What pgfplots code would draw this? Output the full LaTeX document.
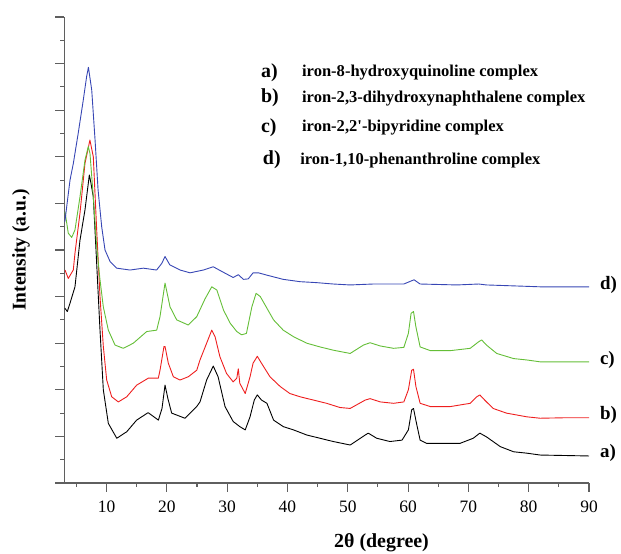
\documentclass[border=0pt]{standalone}
\usepackage{pgfplots}
\pgfplotsset{compat=1.18}
\usepackage{fontspec}
\setmainfont{Liberation Serif}
\definecolor{cblue}{RGB}{55,70,180}
\definecolor{cgreen}{RGB}{100,190,55}
\definecolor{cred}{RGB}{238,30,30}
\definecolor{axgray}{RGB}{95,95,95}
\begin{document}
\begin{tikzpicture}
\path[use as bounding box] (0,0) rectangle (621bp,554bp);
\begin{axis}[
  at={(64.3bp,71bp)}, anchor=south west,
  scale only axis, width=524.7bp, height=466bp,
  xmin=3, xmax=90, ymin=0, ymax=10,
  axis lines=left, axis line style={-, axgray, line width=1.1bp},
  tick style={axgray, line width=1.1bp},
  tick align=outside,
  major tick length=9bp, minor tick length=4bp,
  xtick={10,20,...,90}, minor xtick={5,15,...,85},
  ytick={0,1,...,10}, minor ytick={0.5,1.5,...,9.5},
  yticklabels={},
  xticklabel style={font=\fontsize{17.5}{18}\selectfont, yshift=-5bp},
  /pgf/number format/assume math mode=true,
  clip=false,
  every axis plot/.append style={line width=0.9bp, line join=round},
]
% a) black
\addplot[black] coordinates {
(3.1,3.75)(3.5,3.68)(3.95,3.86)(4.77,4.21)(5.6,5.21)(6.43,5.86)(7.15,6.61)(7.4,6.45)
(7.81,6.14)(8.37,4.71)(8.92,3.28)(9.47,2.0)(10.3,1.28)(11.7,0.96)(13.35,1.10)(15.0,1.35)
(16.9,1.51)(18.6,1.35)(19.2,1.6)(19.7,2.10)(20.2,1.8)(20.8,1.50)(23.0,1.39)(24.95,1.64)
(25.5,1.74)(26.6,2.21)(27.7,2.51)(28.5,2.28)(29.65,1.64)(31.0,1.32)(32.1,1.21)(33.0,1.14)
(33.8,1.42)(34.5,1.78)(35.0,1.89)(35.7,1.78)(36.6,1.71)(37.7,1.35)(39.3,1.21)(41.0,1.14)
(43.2,1.03)(45.4,0.96)(47.6,0.89)(50.4,0.815)(52.9,1.03)(53.4,1.07)(54.8,0.96)(57.0,0.89)
(59.0,0.92)(60.05,1.14)(60.6,1.57)(60.9,1.60)(61.4,1.28)(62.0,0.92)(63.1,0.85)(65.3,0.85)
(68.6,0.85)(70.8,0.96)(71.9,1.07)(73.0,0.99)(75.3,0.78)(77.5,0.67)(79.7,0.64)(81.9,0.60)
(86,0.59)(90,0.58)};
% b) red
\addplot[cred] coordinates {
(3.12,4.57)(3.66,4.39)(4.49,4.57)(4.77,4.93)(5.6,5.79)(6.43,6.86)(7.25,7.36)(7.81,7.0)
(8.37,5.43)(8.92,4.0)(9.47,2.93)(10.03,2.21)(10.86,1.85)(11.96,1.74)(13.35,1.85)(15.0,2.10)
(16.93,2.25)(18.59,2.25)(18.87,2.42)(19.53,2.93)(19.7,2.93)(20.25,2.57)(21.08,2.28)(22.19,2.21)
(23.56,2.28)(24.96,2.42)(25.5,2.64)(26.6,3.0)(27.45,3.28)(28.0,3.14)(28.8,2.71)(29.9,2.35)
(31.0,2.17)(31.6,2.25)(31.85,2.45)(32.1,2.14)(33.0,1.92)(33.8,2.28)(34.3,2.57)(35.0,2.72)
(35.7,2.57)(37.1,2.28)(38.8,2.07)(40.4,1.92)(42.1,1.85)(44.3,1.78)(46.5,1.71)(48.7,1.62)
(50.4,1.60)(52.9,1.78)(53.7,1.81)(55.4,1.74)(57.6,1.71)(59.3,1.74)(60.05,2.0)(60.6,2.42)
(60.9,2.44)(61.3,2.07)(62.0,1.71)(63.7,1.64)(67.0,1.64)(70.3,1.71)(71.4,1.85)(71.9,1.89)
(72.7,1.78)(74.1,1.60)(76.3,1.50)(79.7,1.42)(81.9,1.39)(86,1.40)(90,1.40)};
% c) green
\addplot[cgreen] coordinates {
(3.12,5.82)(3.66,5.36)(4.23,5.27)(4.77,5.43)(5.6,6.14)(6.43,6.93)(6.98,7.22)(7.26,7.07)
(7.81,6.14)(8.37,5.07)(8.92,4.36)(9.47,3.78)(10.3,3.28)(11.41,2.96)(12.78,2.89)(14.44,3.0)
(16.66,3.25)(18.32,3.28)(18.87,3.57)(19.7,4.29)(20.53,3.78)(21.64,3.50)(23.56,3.39)(24.96,3.57)
(26.33,3.95)(27.45,4.21)(28.3,4.14)(29.4,3.71)(30.5,3.43)(31.6,3.25)(32.4,3.18)(33.2,3.21)
(34.1,3.78)(34.8,4.07)(35.5,4.0)(36.6,3.75)(37.7,3.50)(39.3,3.28)(41.0,3.14)(43.2,3.0)
(45.4,2.92)(47.6,2.85)(50.4,2.78)(52.6,2.96)(53.7,3.01)(55.4,2.94)(57.6,2.89)(59.3,2.91)
(60.05,3.21)(60.5,3.64)(60.9,3.68)(61.3,3.35)(62.0,2.92)(63.7,2.84)(67.0,2.84)(70.3,2.89)
(71.7,3.03)(72.2,3.07)(73.0,2.96)(74.7,2.78)(77.5,2.67)(79.7,2.64)(81.9,2.60)(86,2.60)(90,2.60)};
% d) blue
\addplot[cblue] coordinates {
(3.1,5.61)(3.4,5.93)(3.95,6.50)(4.5,6.86)(5.3,7.50)(6.15,8.22)(6.7,8.72)(7.0,8.92)
(7.55,8.43)(8.1,7.36)(8.6,6.29)(9.2,5.50)(9.75,5.0)(10.6,4.75)(11.7,4.61)(13.9,4.57)
(16.1,4.61)(18.3,4.57)(19.15,4.71)(19.7,4.86)(20.5,4.68)(22.2,4.57)(23.85,4.51)(26.05,4.57)
(27.7,4.64)(29.4,4.52)(31.0,4.41)(31.85,4.47)(32.7,4.37)(33.5,4.38)(34.3,4.51)(35.2,4.51)
(36.6,4.46)(39.3,4.37)(42.1,4.32)(44.8,4.30)(47.6,4.27)(50.4,4.25)(54.2,4.27)(59.3,4.27)
(60.6,4.34)(61.0,4.36)(62.0,4.27)(68.1,4.25)(71.7,4.27)(73.0,4.25)(77.5,4.23)(81.9,4.21)(90,4.21)};
% end labels
\begin{scope}[every node/.style={font=\fontsize{19}{20}\selectfont\bfseries, anchor=west, inner sep=0pt}]
\node at (axis cs:91.8,4.25) {d)};
\node at (axis cs:91.8,2.64) {c)};
\node at (axis cs:91.8,1.46) {b)};
\node at (axis cs:91.8,0.64) {a)};
\end{scope}
% legend block
\begin{scope}[every node/.style={anchor=west, inner sep=0pt}]
\node[font=\fontsize{20}{21}\selectfont\bfseries] at (axis cs:35.6,8.80) {a)};
\node[font=\fontsize{20}{21}\selectfont\bfseries] at (axis cs:35.6,8.26) {b)};
\node[font=\fontsize{20}{21}\selectfont\bfseries] at (axis cs:35.6,7.62) {c)};
\node[font=\fontsize{20}{21}\selectfont\bfseries] at (axis cs:35.9,6.93) {d)};
\node[font=\fontsize{16.6}{17}\selectfont\bfseries] at (axis cs:42.4,8.80) {iron-8-hydroxyquinoline complex};
\node[font=\fontsize{16.6}{17}\selectfont\bfseries] at (axis cs:42.4,8.26) {iron-2,3-dihydroxynaphthalene complex};
\node[font=\fontsize{16.6}{17}\selectfont\bfseries] at (axis cs:42.4,7.62) {iron-2,2\textquotesingle-bipyridine complex};
\node[font=\fontsize{16.6}{17}\selectfont\bfseries] at (axis cs:42.1,6.93) {iron-1,10-phenanthroline complex};
\end{scope}
% axis titles
\node[font=\fontsize{20}{21}\selectfont\bfseries] at (axis cs:55.6,-1.29) {2θ (degree)};
\node[font=\fontsize{19.5}{20}\selectfont\bfseries, rotate=90] at (axis cs:-4.2,5) {Intensity (a.u.)};
\end{axis}
\end{tikzpicture}
\end{document}
